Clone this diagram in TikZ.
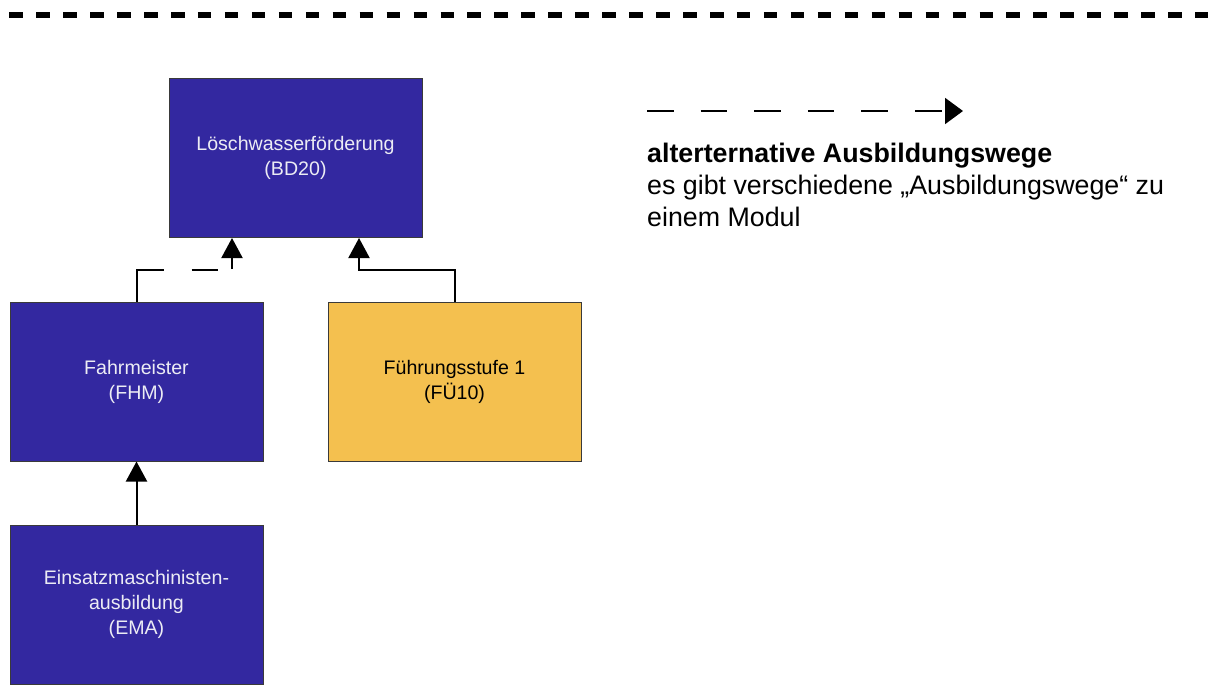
\documentclass[tikz,border=0pt]{standalone}
\usepackage{fontspec}
\setmainfont{Liberation Sans}
\usetikzlibrary{arrows.meta}
\definecolor{boxblue}{HTML}{3328A0}
\definecolor{boxyellow}{HTML}{F4C04F}
\definecolor{boxedge}{HTML}{3A3A3A}
\definecolor{boxtext}{HTML}{ECECF4}
\begin{document}
\begin{tikzpicture}[x=1pt,y=-1pt,
  modbox/.style={draw=boxedge, line width=1pt, minimum width=253pt, minimum height=159pt, inner sep=0pt, align=center, font=\fontsize{19.6}{25}\selectfont},
  bluebox/.style={modbox, fill=boxblue, text=boxtext},
  yellowbox/.style={modbox, fill=boxyellow, text=black},
  conn/.style={line width=2pt, -{Triangle[length=20pt,width=21pt]}},
  legtext/.style={anchor=base west, inner sep=0pt, font=\fontsize{26.8}{31.5}\selectfont},
]
\useasboundingbox (0,0) rectangle (1217,687);
\fill[white] (0,0) rectangle (1217,687);

% top separator
\coordinate (sepL) at (9.3,15.5);
\coordinate (sepR) at (1208,15.5);
\draw[line width=6pt, dash pattern=on 13.5pt off 13.45pt] (sepL) -- (sepR);

% modules
\node[bluebox] (lbf) at (295.5,158) {Löschwasserförderung\\(BD20)};
\node[bluebox] (fhm) at (136.5,381.5) {Fahrmeister\\(FHM)};
\node[yellowbox] (fue) at (454.5,381.5) {Führungsstufe 1\\(FÜ10)};
\node[bluebox] (ema) at (136.5,604.5) {Einsatzmaschinisten-\\ausbildung\\(EMA)};

% connectors
\draw[conn, dash pattern=on 59pt off 28pt on 26pt off 15pt on 60pt]
  (fhm.north) -- ++(0,-32) -| ([xshift=-63.5pt]lbf.south);
\draw[conn] (fue.north) -- ++(0,-32) -| ([xshift=63.5pt]lbf.south);
\draw[conn] (ema.north) -- (fhm.south);

% legend
\coordinate (legA) at (647,111);
\coordinate (legB) at (963,111);
\draw[line width=2pt, dash pattern=on 26.5pt off 27.1pt, -{Triangle[length=18pt,width=26pt]}] (legA) -- (legB);
\node[legtext, font=\fontsize{26.8}{31.5}\selectfont\bfseries] (leg1) at (647,163) {alterternative Ausbildungswege};
\node[legtext] (leg2) at (647,194.5) {es gibt verschiedene „Ausbildungswege“ zu};
\node[legtext] (leg3) at (647,226) {einem Modul};
\end{tikzpicture}
\end{document}
